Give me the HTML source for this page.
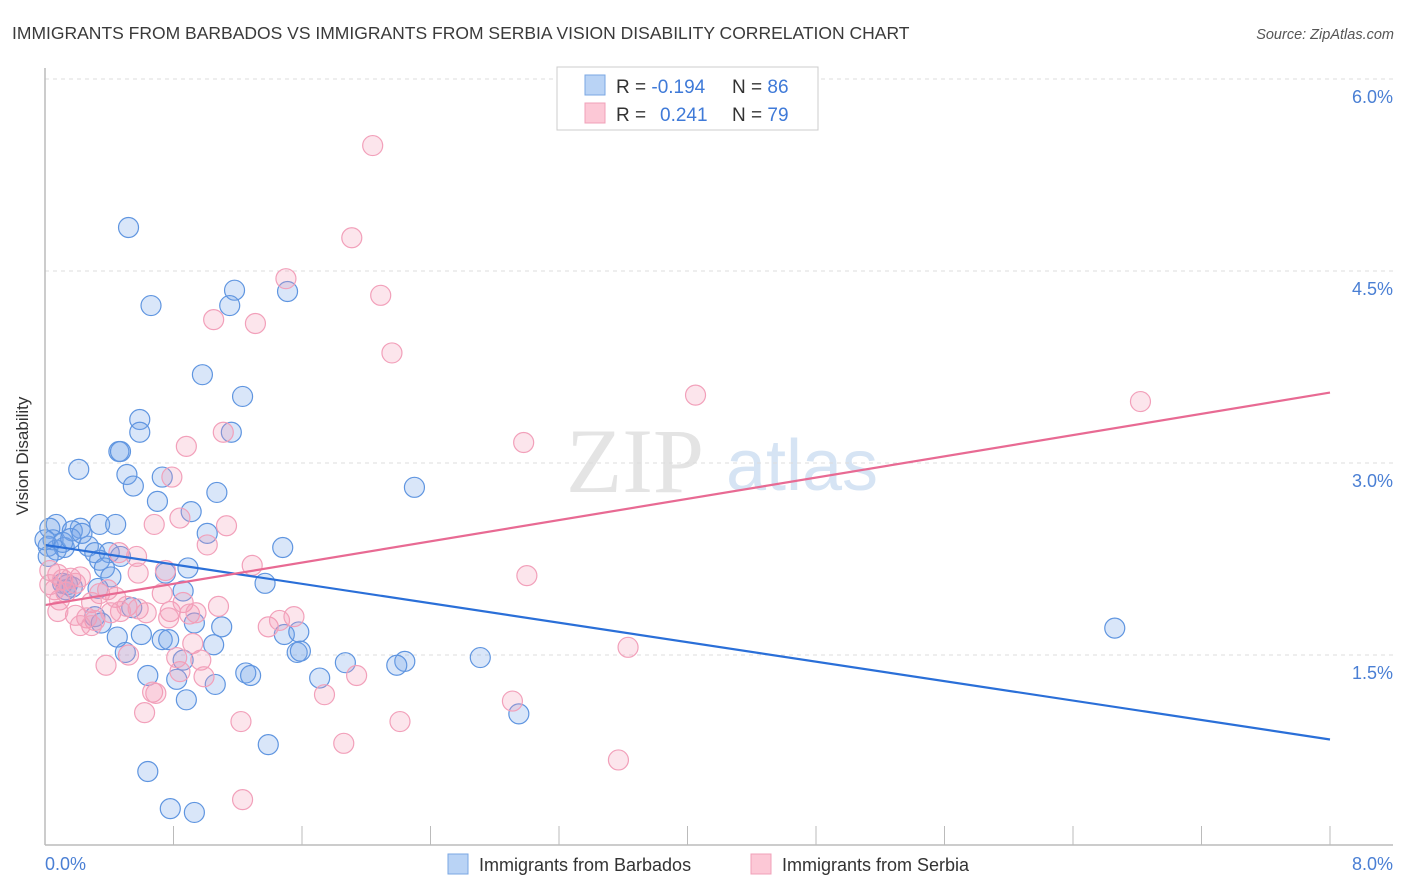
<!DOCTYPE html>
<html><head><meta charset="utf-8"><style>
body{margin:0;background:#fff;font-family:"Liberation Sans",sans-serif;}
svg{display:block}
</style></head><body>
<svg width="1406" height="892" id="chart">
<text x="12" y="39" font-size="17.5" fill="#3a3a3a">IMMIGRANTS FROM BARBADOS VS IMMIGRANTS FROM SERBIA VISION DISABILITY CORRELATION CHART</text>
<text x="1394" y="39" font-size="14.5" fill="#555" font-style="italic" text-anchor="end">Source: ZipAtlas.com</text>
<text x="28" y="456" font-size="17" fill="#333" text-anchor="middle" transform="rotate(-90 28 456)">Vision Disability</text>
<g>
<text x="635" y="492" font-size="92" fill="#e4e4e4" font-family="Liberation Serif,serif" text-anchor="middle">ZIP</text>
<text x="802" y="490" font-size="72" fill="#d6e4f4" text-anchor="middle">atlas</text>
</g>
<g id="grid"></g><g id="xticks"></g><g id="blue"></g><g id="pink"></g><g id="lines"></g>
<line x1="45" y1="68" x2="45" y2="845" stroke="#bbb" stroke-width="1.5"/>
<line x1="45" y1="845" x2="1393" y2="845" stroke="#bbb" stroke-width="1.5"/>
<text x="45" y="870" font-size="18" fill="#4a7fd4">0.0%</text>
<text x="1393" y="870" font-size="18" fill="#4a7fd4" text-anchor="end">8.0%</text>
<g>
<rect x="557" y="67" width="261" height="63" fill="#fff" stroke="#ccc"/>
<rect x="585" y="75" width="20" height="20" fill="#b9d3f5" stroke="#7aa7e3"/>
<rect x="585" y="103" width="20" height="20" fill="#fcc8d6" stroke="#f0a0b8"/>
<text x="616" y="93" font-size="19" fill="#333">R = <tspan fill="#3f7ad8">-0.194</tspan><tspan x="732">N = </tspan><tspan fill="#3f7ad8">86</tspan></text>
<text x="616" y="121" font-size="19" fill="#333">R = <tspan x="660" fill="#3f7ad8">0.241</tspan><tspan x="732">N = </tspan><tspan fill="#3f7ad8">79</tspan></text>
</g>
<g>
<rect x="448" y="854" width="20" height="20" fill="#b9d3f5" stroke="#7aa7e3"/>
<text x="479" y="871" font-size="18" fill="#333">Immigrants from Barbados</text>
<rect x="751" y="854" width="20" height="20" fill="#fcc8d6" stroke="#f0a0b8"/>
<text x="782" y="871" font-size="18" fill="#333">Immigrants from Serbia</text>
</g>
</svg>
<script>
const yTicks=[1.5,3.0,4.5,6.0];
const xTicks=[0,0.8,1.6,2.4,3.2,4.0,4.8,5.6,6.4,7.2,8.0];
const blueX=[0.52,0.66,1.18,1.15,1.51,0.98,1.23,0.59,0.59,0.46,0.47,1.16,0.21,0.51,0.55,0.73,0.70,1.07,2.30,0.91,0.34,0.44,0.22,0.07,0.03,0.17,0.02,0.07,0.12,0.27,0.31,0.40,0.47,1.48,1.01,0.05,0.11,0.16,0.23,0.34,0.37,0.41,0.33,0.11,0.14,0.17,0.13,0.02,0.75,0.89,1.37,0.86,0.54,0.31,0.35,0.45,0.60,0.73,0.77,1.10,0.93,1.05,1.49,1.58,0.50,0.86,1.57,1.59,1.87,2.24,2.19,2.71,6.66,0.64,0.82,1.25,1.28,1.71,1.06,0.88,1.39,2.95,0.64,0.78,0.93,0.00];
const blueY=[4.84,4.23,4.35,4.23,4.34,3.69,3.52,3.34,3.24,3.09,3.09,3.24,2.95,2.91,2.82,2.89,2.70,2.77,2.81,2.62,2.52,2.52,2.49,2.52,2.49,2.47,2.35,2.32,2.34,2.35,2.30,2.30,2.27,2.34,2.45,2.40,2.38,2.41,2.45,2.24,2.18,2.11,2.02,2.06,2.05,2.03,2.01,2.27,2.14,2.18,2.06,2.00,1.87,1.80,1.75,1.64,1.66,1.62,1.62,1.72,1.75,1.58,1.66,1.68,1.52,1.46,1.52,1.53,1.44,1.45,1.42,1.48,1.71,1.34,1.31,1.36,1.34,1.32,1.27,1.15,0.80,1.04,0.59,0.30,0.27,2.40];
const pinkX=[2.04,1.91,1.50,2.09,1.05,1.31,2.16,4.05,6.82,2.98,0.88,1.11,0.79,0.68,0.84,1.13,1.01,1.29,0.46,0.57,0.75,0.58,3.00,0.03,0.08,0.11,0.16,0.06,0.13,0.09,0.22,0.39,0.34,0.44,0.29,0.19,0.26,0.31,0.41,0.51,0.58,0.63,0.47,0.78,0.77,0.86,0.90,0.94,1.08,0.73,0.22,0.29,1.39,1.46,1.55,0.92,3.63,0.38,0.52,0.82,0.97,0.84,1.94,0.99,0.67,0.69,1.74,2.91,0.62,1.22,2.21,1.86,3.57,1.23,0.03,0.08,0.19];
const pinkY=[5.48,4.76,4.44,4.31,4.12,4.09,3.86,3.53,3.48,3.16,3.13,3.24,2.89,2.52,2.57,2.51,2.36,2.20,2.30,2.27,2.16,2.14,2.12,2.16,2.13,2.09,2.10,2.01,1.99,1.93,2.11,2.01,1.98,1.95,1.91,1.81,1.79,1.77,1.83,1.88,1.86,1.83,1.84,1.84,1.79,1.91,1.82,1.83,1.88,1.98,1.73,1.73,1.72,1.77,1.80,1.59,1.56,1.42,1.50,1.48,1.46,1.37,1.34,1.33,1.21,1.20,1.19,1.14,1.05,0.98,0.98,0.81,0.68,0.37,2.05,1.84,2.06];
const trendBlue=[2.36,0.84];
const trendPink=[1.89,3.55];
const NS="http://www.w3.org/2000/svg";
const sx=v=>45+v*(1285/8);
const sy=v=>847-v*128;
function mk(tag,attrs,parent){const e=document.createElementNS(NS,tag);for(const k in attrs)e.setAttribute(k,attrs[k]);document.getElementById(parent).appendChild(e);return e;}
yTicks.forEach(t=>{
  const l=mk('line',{x1:45,x2:1393,y1:sy(t),y2:sy(t),stroke:'#ddd','stroke-dasharray':'4,4'},'grid');
  
  
  const tx=mk('text',{x:1393,y:sy(t)+24,'font-size':18,fill:'#4a7fd4','text-anchor':'end'},'grid');
  tx.textContent=t.toFixed(1)+'%';
  
  
});
xTicks.forEach(t=>{
  const l=mk('line',{x1:sx(t),x2:sx(t),y1:826,y2:845,stroke:'#bbb'},'xticks');
  
  
});
blueX.forEach((v,i)=>{
  const c=mk('circle',{cx:sx(v),cy:sy(blueY[i]),r:10,fill:'rgba(120,165,235,0.28)',stroke:'#5f95e0','stroke-width':1.2},'blue');
  
  
});
pinkX.forEach((v,i)=>{
  const c=mk('circle',{cx:sx(v),cy:sy(pinkY[i]),r:10,fill:'rgba(245,150,180,0.25)',stroke:'#f2a0ba','stroke-width':1.2},'pink');
  
  
});
const lb=mk('line',{x1:sx(0),y1:sy(trendBlue[0]),x2:sx(8),y2:sy(trendBlue[1]),stroke:'#2a6fd8','stroke-width':2.2},'lines');


const lp=mk('line',{x1:sx(0),y1:sy(trendPink[0]),x2:sx(8),y2:sy(trendPink[1]),stroke:'#e86a93','stroke-width':2.2},'lines');


</script>
</body></html>
